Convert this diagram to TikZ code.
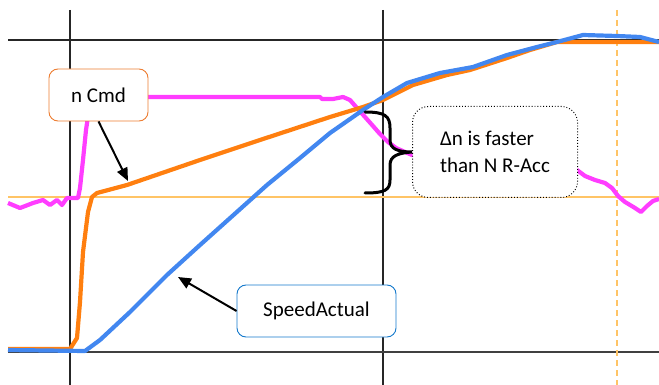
\documentclass[tikz,border=0pt]{standalone}
\usepackage{fontspec}
\setmainfont{Carlito}
\usetikzlibrary{arrows.meta}

\definecolor{cmdpink}{HTML}{FF3DFF}
\definecolor{cmdorange}{HTML}{FF7F0F}
\definecolor{actblue}{HTML}{4287F0}
\definecolor{refline}{HTML}{FFC466}
\definecolor{boxorange}{HTML}{ED7D31}
\definecolor{boxblue}{HTML}{1479CC}

\tikzset{
  grid/.style={line width=1.3pt, black!85},
  trace/.style={line width=4.2pt, line join=round},
  callout/.style={draw, fill=white, rounded corners=9pt, line width=0.9pt,
    font=\fontsize{21}{27}\selectfont, inner sep=0pt},
  pointer/.style={line width=2pt, -{Triangle[length=13pt,width=11pt]}}
}

\begin{document}
\begin{tikzpicture}[x=1pt, y=-1pt]
    \useasboundingbox (0,0) rectangle (659,385);

    % grid
    \draw [grid] (70,10) -- (70,385);
    \draw [grid] (383,10) -- (383,385);
    \draw [grid] (8,40) -- (659,40);
    \draw [grid, line width=2pt, black!75] (8,352) -- (659,352);
    \draw [refline, line width=1.2pt] (8,197) -- (659,197);
    \draw [refline, line width=1.4pt, dash pattern=on 6pt off 4pt] (617,10) -- (617,385);

    % traces
    \draw [trace, cmdpink] (8,203) -- (20,208) -- (33,203) -- (43,200) -- (50,205)
      -- (57,200) -- (62,205) -- (67,198) -- (78,198) -- (80,188) -- (83,160)
      -- (86,130) -- (89,110) -- (92,97) -- (320,97) -- (322,99) -- (333,99)
      -- (343,97) -- (350,100) -- (357,108) -- (365,117) -- (373,126) -- (380,134)
      -- (388,142) -- (396,148) -- (405,152) -- (412,155) -- (577,170) -- (585,176)
      -- (595,180) -- (605,183) -- (612,188) -- (618,196) -- (625,202) -- (635,208)
      -- (641,212) -- (647,206) -- (653,201) -- (659,199);
    \draw [trace, cmdorange] (8,349) -- (70,349) -- (77,338) -- (80,302) -- (83,252)
      -- (88,212) -- (92,197) -- (97,193) -- (127,185) -- (200,160) -- (260,140)
      -- (330,117) -- (363,107) -- (383,100) -- (413,85) -- (447,75) -- (470,70)
      -- (507,58) -- (530,50) -- (557,42) -- (659,42);
    \draw [trace, actblue] (8,350) -- (85,351) -- (100,340) -- (130,312) -- (167,275)
      -- (200,245) -- (267,185) -- (300,158) -- (330,133) -- (363,110) -- (383,97)
      -- (407,83) -- (440,73) -- (473,67) -- (507,55) -- (537,47) -- (557,42)
      -- (583,35) -- (617,36) -- (640,37) -- (659,42);

    % callouts
    \node (ncmd) [callout, draw=boxorange, minimum width=99pt, minimum height=52pt]
      at (98.5,95) {n Cmd};
    \node (speed) [callout, draw=boxblue, minimum width=159pt, minimum height=52pt]
      at (316.5,311) {SpeedActual};
    \node (gap) [callout, draw=black, dotted, rounded corners=16pt, line width=1pt,
      align=left, minimum width=165pt, minimum height=91pt]
      at (495,152) {Δn is faster\\than N R-Acc};

    \coordinate (ncmdtip) at (128,181);
    \coordinate (speedtip) at (178,277);
    \coordinate (bracetop) at (365,112);
    \coordinate (bracebot) at (365,193);

    \draw [pointer] (ncmd.south) -- (ncmdtip);
    \draw [pointer] (speed.west) -- (speedtip);
    \draw [line width=3pt, line cap=round] (bracetop)
      .. controls (385,112) and (390,116) .. (390,128) -- (390,140)
      .. controls (390,149) and (398,152) .. (gap.west)
      .. controls (398,153) and (390,156) .. (390,165) -- (390,180)
      .. controls (390,190) and (385,193) .. (bracebot);

  \end{tikzpicture}
\end{document}
